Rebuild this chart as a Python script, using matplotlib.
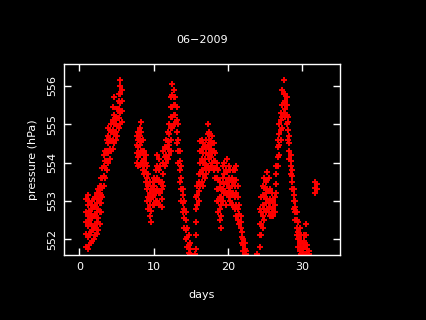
import matplotlib
matplotlib.use("Agg")
import matplotlib.pyplot as plt

# sample days and the pressure readings seen around each of them (hPa)
days = [
    0.9, 1.1, 1.3, 1.5, 1.7, 1.9, 2.1, 2.3, 2.5, 2.7, 2.9, 3.1, 3.3, 3.5, 3.7,
    3.9, 4.1, 4.3, 4.5, 4.7, 4.9, 5.1, 5.3, 5.5, 5.7,
    7.7, 7.9, 8.1, 8.3, 8.5, 8.7, 8.9, 9.1, 9.3, 9.5, 9.7, 9.9, 10.1, 10.3,
    10.5, 10.7, 10.9, 11.1, 11.3, 11.5, 11.7, 11.9, 12.1, 12.3, 12.5, 12.7,
    12.9, 13.1, 13.3, 13.5, 13.7, 13.9, 14.1, 14.3, 14.5, 14.7, 14.9,
    15.6, 15.75, 15.9, 16.1, 16.3, 16.5, 16.7, 16.9, 17.1, 17.3, 17.5, 17.7,
    17.9, 18.1, 18.3, 18.5, 18.7, 18.9, 19.1, 19.3, 19.5, 19.7, 19.9, 20.1,
    20.3, 20.5, 20.7, 20.9, 21.1, 21.3, 21.5, 21.7, 21.9, 22.1, 22.3, 22.5,
    23.9, 24.3, 24.5, 24.7, 24.9, 25.1, 25.3, 25.5, 25.7, 25.9, 26.1, 26.3,
    26.5, 26.7, 26.9, 27.1, 27.3, 27.5, 27.7, 27.9, 28.1, 28.3, 28.5, 28.7,
    28.9, 29.1, 29.3, 29.5, 29.7, 29.9, 30.1, 30.3, 30.5, 30.7, 30.9,
    31.8, 32.0,
]

readings = [
    [551.80, 552.15, 552.45, 552.70, 553.05],
    [551.75, 552.05, 552.35, 552.60, 552.90, 553.15],
    [551.85, 552.10, 552.50, 552.75, 553.00],
    [551.90, 552.20, 552.40, 552.65, 552.90],
    [551.95, 552.25, 552.55, 552.80, 553.00],
    [552.00, 552.30, 552.60, 552.85, 553.05],
    [552.10, 552.35, 552.65, 552.90, 553.10],
    [552.15, 552.45, 552.70, 552.95, 553.20],
    [552.25, 552.55, 552.80, 553.05, 553.30],
    [552.40, 552.70, 552.95, 553.20, 553.40],
    [552.70, 552.95, 553.15, 553.40, 553.60],
    [553.10, 553.35, 553.60, 553.85],
    [553.40, 553.65, 553.90, 554.20],
    [553.60, 553.85, 554.05, 554.30],
    [553.80, 554.05, 554.30, 554.60],
    [554.00, 554.25, 554.50, 554.70, 554.90],
    [554.10, 554.35, 554.60, 554.85],
    [554.30, 554.55, 554.80, 555.00],
    [554.35, 554.60, 554.85, 555.10, 555.45],
    [554.50, 554.75, 555.00, 555.25, 555.70],
    [554.60, 554.80, 555.00, 555.20],
    [554.70, 554.95, 555.15, 555.40],
    [554.90, 555.15, 555.40, 555.60, 555.80],
    [555.00, 555.30, 555.55, 555.80, 556.00, 556.15],
    [555.05, 555.35, 555.60, 555.90],
    # second rise
    [554.00, 554.25, 554.45, 554.70],
    [553.90, 554.15, 554.40, 554.60, 554.80],
    [553.95, 554.20, 554.45, 554.70, 554.90],
    [554.00, 554.30, 554.55, 554.80, 555.05],
    [553.80, 554.05, 554.30, 554.60],
    [553.70, 553.90, 554.10, 554.30],
    [553.50, 553.75, 554.00, 554.20],
    [553.00, 553.30, 553.60, 553.90],
    [552.80, 553.10, 553.40, 553.70],
    [552.60, 552.90, 553.20, 553.50],
    [552.45, 552.75, 553.05, 553.30],
    [552.90, 553.10, 553.30, 553.50],
    [552.90, 553.15, 553.40, 553.60],
    [553.00, 553.25, 553.55, 553.80],
    [553.00, 553.30, 553.60, 553.90, 554.20],
    [552.90, 553.20, 553.50, 553.80, 554.10],
    [552.90, 553.20, 553.50, 553.90],
    [552.85, 553.05, 553.30, 553.50],
    [553.40, 553.70, 554.00, 554.30],
    [553.90, 554.15, 554.40],
    [554.00, 554.20, 554.40, 554.60],
    [554.10, 554.35, 554.55, 554.80],
    [554.20, 554.45, 554.75, 555.00],
    [554.30, 554.60, 554.90, 555.20, 555.45, 555.70],
    [554.90, 555.20, 555.45, 555.75, 556.05],
    [555.00, 555.25, 555.50, 555.70, 555.90],
    [555.00, 555.25, 555.50, 555.70],
    [554.50, 554.80, 555.10, 555.45],
    [554.00, 554.30, 554.60, 555.00],
    [553.50, 553.80, 554.05, 554.30],
    [553.00, 553.30, 553.60, 553.90],
    [552.70, 552.95, 553.15, 553.30],
    [552.30, 552.55, 552.80, 553.00],
    [552.00, 552.25, 552.50, 552.70],
    [551.80, 552.05, 552.30],
    [551.65, 551.85, 552.10],
    [551.62, 551.75, 551.90],
    # mid month
    [551.62],
    [551.75, 552.10, 552.45, 552.80, 553.10],
    [552.90, 553.15, 553.40],
    [553.00, 553.25, 553.50, 553.70],
    [553.40, 553.70, 554.00, 554.30, 554.55],
    [553.50, 553.80, 554.10, 554.35, 554.60],
    [553.40, 553.70, 554.00, 554.25, 554.50],
    [553.60, 553.85, 554.10, 554.40],
    [553.70, 553.95, 554.25, 554.60],
    [553.90, 554.20, 554.45, 554.75, 555.00],
    [553.80, 554.10, 554.35, 554.60, 554.80],
    [553.90, 554.15, 554.35, 554.55],
    [554.00, 554.25, 554.50, 554.70],
    [553.80, 554.05, 554.30, 554.50],
    [553.60, 553.85, 554.05, 554.25],
    [553.00, 553.30, 553.60, 553.85, 554.00],
    [552.70, 553.00, 553.30, 553.55, 553.80],
    [552.50, 552.80, 553.10, 553.35, 553.50],
    [552.30, 552.60, 552.90, 553.10, 553.30],
    [553.00, 553.30, 553.60, 553.90],
    [553.20, 553.45, 553.70, 554.00],
    [552.90, 553.20, 553.50, 553.80],
    [553.20, 553.45, 553.75, 554.10],
    [553.10, 553.35, 553.60, 553.90],
    [553.00, 553.25, 553.55, 553.80],
    [552.90, 553.15, 553.40, 553.60],
    [552.90, 553.20, 553.50, 553.80],
    [552.80, 553.10, 553.40, 553.80],
    [552.60, 552.90, 553.20, 553.55, 553.90],
    [552.50, 552.80, 553.10, 553.40],
    [552.40, 552.65, 552.90],
    [552.30, 552.45, 552.60],
    [551.90, 552.05, 552.20],
    [551.70, 551.85, 552.00],
    [551.62, 551.75, 551.90],
    [551.62, 551.70],
    # last week
    [551.62],
    [551.80, 552.10, 552.40, 552.80],
    [552.10, 552.40, 552.70, 553.10],
    [552.30, 552.60, 552.90, 553.15, 553.40],
    [552.50, 552.80, 553.10, 553.35, 553.60],
    [552.70, 552.95, 553.20, 553.50],
    [552.80, 553.05, 553.30, 553.55, 553.75],
    [552.70, 552.95, 553.25, 553.60],
    [552.60, 552.85, 553.05, 553.30],
    [552.60, 552.80, 553.00, 553.20],
    [552.60, 552.80, 553.00],
    [552.70, 552.90, 553.10],
    [553.20, 553.45, 553.70, 553.90],
    [553.90, 554.15, 554.40, 554.60],
    [554.20, 554.45, 554.75, 555.00],
    [554.60, 554.85, 555.10, 555.30],
    [554.90, 555.20, 555.50, 555.90],
    [555.30, 555.55, 555.80, 556.15],
    [555.20, 555.40, 555.60, 555.80],
    [555.00, 555.25, 555.50, 555.70],
    [554.60, 554.85, 555.05, 555.20],
    [554.10, 554.30, 554.50, 554.70],
    [553.70, 553.90, 554.05, 554.20],
    [553.30, 553.50, 553.65, 553.80],
    [552.80, 553.00, 553.15, 553.30],
    [552.50, 552.70, 552.85, 553.00],
    [552.10, 552.30, 552.50, 552.70],
    [551.80, 552.00, 552.20, 552.45],
    [551.70, 551.90, 552.10, 552.30],
    [551.62, 551.80, 551.95, 552.10],
    [551.62, 551.75, 551.90],
    [551.62, 551.80, 551.95, 552.10],
    [551.62, 551.85, 552.10, 552.40],
    [551.62, 551.75, 551.85],
    [551.62, 551.70],
    [553.20, 553.35, 553.50],
    [553.30, 553.45],
]

xticks = [0, 10, 20, 30]
yticks = [552, 553, 554, 555, 556]
title = "06\u22122009"

# flatten into point lists
xs, ys = [], []
for d, vals in zip(days, readings):
    for v in vals:
        xs.append(d)
        ys.append(v)

fig = plt.figure(figsize=(4.26, 3.2), dpi=100, facecolor="black")
ax = fig.add_axes([0.150, 0.203, 0.648, 0.597], facecolor="black")

ax.plot(xs, ys, "+", color="#ff0000", markersize=4, markeredgewidth=1.4)

ax.set_xlim(-2.1, 35.1)
ax.set_ylim(551.59, 556.57)
ax.set_xticks(xticks)
ax.set_yticks(yticks)

for s in ax.spines.values():
    s.set_color("white")
    s.set_linewidth(1.0)

ax.tick_params(colors="white", direction="in", length=5, width=1.0,
               top=True, right=True, labelsize=8, pad=5)
for lab in ax.get_yticklabels():
    lab.set_rotation(90)
    lab.set_va("center")

ax.set_xlabel("days", color="white", fontsize=8)
ax.xaxis.set_label_coords(0.5, -0.183)
ax.set_ylabel("pressure (hPa)", color="white", fontsize=8)
ax.yaxis.set_label_coords(-0.094, 0.5)
ax.text(0.5, 1.126, title, transform=ax.transAxes, ha="center", va="center",
        color="white", fontsize=8)

fig.savefig("out.png", dpi=100, facecolor="black")
